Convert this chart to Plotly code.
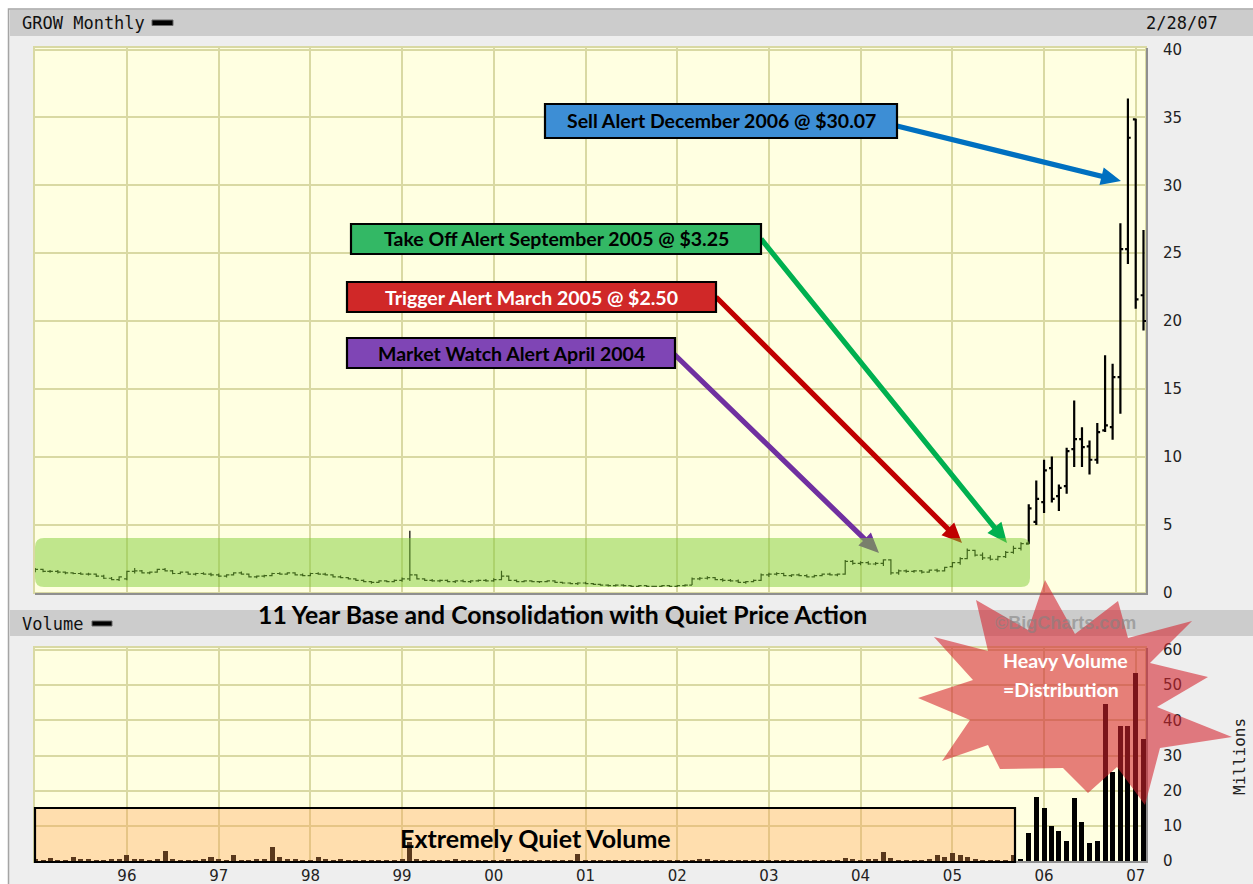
import math
import pandas as pd
import plotly.graph_objects as go

# ---------------- data ----------------
months = pd.date_range("1995-01-01", "2007-02-01", freq="MS")

open_by_year = [
    [1.60, 1.70, 1.55, 1.55, 1.50, 1.45, 1.40, 1.35, 1.35, 1.20, 1.05, 0.95],
    [1.00, 1.55, 1.60, 1.45, 1.50, 1.70, 1.60, 1.40, 1.50, 1.35, 1.40, 1.35],
    [1.30, 1.20, 1.30, 1.45, 1.35, 1.15, 1.20, 1.25, 1.40, 1.35, 1.45, 1.30],
    [1.25, 1.40, 1.35, 1.30, 1.15, 1.10, 1.00, 0.90, 0.80, 0.75, 0.85, 0.80],
    [0.90, 1.00, 1.30, 1.00, 0.90, 0.85, 0.90, 0.80, 0.85, 0.80, 0.85, 0.90],
    [0.85, 0.95, 1.20, 0.90, 0.80, 0.85, 0.80, 0.80, 0.85, 0.75, 0.70, 0.65],
    [0.70, 0.65, 0.60, 0.55, 0.50, 0.55, 0.50, 0.45, 0.50, 0.45, 0.45, 0.50],
    [0.45, 0.50, 0.55, 1.00, 1.05, 1.10, 0.95, 0.90, 0.85, 0.75, 0.80, 0.90],
    [1.30, 1.35, 1.40, 1.25, 1.30, 1.25, 1.15, 1.25, 1.35, 1.30, 1.35, 2.30],
    [2.15, 2.20, 2.10, 2.15, 2.40, 1.45, 1.60, 1.55, 1.60, 1.50, 1.65, 1.60],
    [1.90, 2.20, 2.50, 3.10, 2.75, 2.55, 2.45, 2.65, 2.95, 3.25, 3.60, 5.20],
    [6.66, 9.16, 7.10, 7.83, 10.56, 11.30, 10.76, 9.78, 11.94, 12.18, 15.87, 25.30],
    [34.85, 21.90],
]
high_by_year = [
    [1.80, 1.75, 1.65, 1.65, 1.55, 1.50, 1.50, 1.45, 1.40, 1.30, 1.15, 1.20],
    [1.60, 1.80, 1.65, 1.55, 1.75, 1.80, 1.65, 1.55, 1.55, 1.45, 1.50, 1.45],
    [1.40, 1.35, 1.50, 1.55, 1.40, 1.25, 1.30, 1.45, 1.50, 1.50, 1.50, 1.40],
    [1.45, 1.50, 1.45, 1.35, 1.25, 1.15, 1.05, 0.95, 0.85, 0.90, 0.90, 0.95],
    [1.10, 4.55, 1.35, 1.05, 1.00, 0.95, 0.95, 0.90, 0.95, 0.90, 0.95, 1.00],
    [1.05, 1.60, 1.25, 0.95, 0.90, 0.90, 0.85, 0.90, 0.90, 0.80, 0.75, 0.75],
    [0.80, 0.70, 0.65, 0.60, 0.60, 0.60, 0.55, 0.55, 0.55, 0.50, 0.55, 0.55],
    [0.55, 0.60, 1.10, 1.15, 1.20, 1.15, 1.05, 1.00, 0.95, 0.85, 0.95, 1.40],
    [1.45, 1.50, 1.45, 1.35, 1.40, 1.35, 1.30, 1.40, 1.45, 1.40, 2.40, 2.40],
    [2.30, 2.30, 2.25, 2.45, 2.45, 1.70, 1.70, 1.65, 1.65, 1.70, 1.75, 1.90],
    [2.25, 2.60, 3.25, 3.15, 2.95, 2.75, 2.70, 3.05, 3.45, 3.70, 6.50, 8.25],
    [9.78, 10.02, 7.96, 10.66, 14.15, 12.18, 11.20, 12.48, 17.47, 16.85, 27.20, 36.40],
    [34.90, 26.70],
]
low_by_year = [
    [1.50, 1.50, 1.45, 1.40, 1.35, 1.35, 1.30, 1.25, 1.15, 1.00, 0.90, 0.85],
    [0.90, 1.40, 1.40, 1.35, 1.45, 1.55, 1.35, 1.35, 1.30, 1.25, 1.30, 1.20],
    [1.15, 1.10, 1.25, 1.30, 1.10, 1.05, 1.10, 1.20, 1.30, 1.30, 1.25, 1.20],
    [1.20, 1.30, 1.25, 1.10, 1.05, 0.95, 0.85, 0.75, 0.65, 0.70, 0.75, 0.75],
    [0.80, 0.85, 0.95, 0.85, 0.80, 0.75, 0.75, 0.70, 0.75, 0.70, 0.80, 0.80],
    [0.80, 0.90, 0.85, 0.75, 0.75, 0.75, 0.70, 0.75, 0.70, 0.65, 0.60, 0.55],
    [0.60, 0.55, 0.50, 0.45, 0.45, 0.45, 0.40, 0.40, 0.40, 0.40, 0.40, 0.40],
    [0.40, 0.45, 0.55, 0.90, 0.95, 0.90, 0.80, 0.80, 0.70, 0.65, 0.75, 0.85],
    [1.15, 1.25, 1.20, 1.15, 1.20, 1.10, 1.10, 1.20, 1.25, 1.20, 1.30, 2.05],
    [2.00, 2.05, 2.00, 1.95, 1.30, 1.30, 1.45, 1.45, 1.40, 1.45, 1.50, 1.55],
    [1.85, 2.05, 2.45, 2.65, 2.40, 2.35, 2.35, 2.55, 2.85, 3.10, 3.55, 4.98],
    [5.85, 6.63, 6.00, 7.27, 9.24, 9.24, 8.70, 9.48, 11.82, 11.25, 13.17, 24.20],
    [20.90, 19.30],
]
close_by_year = [
    [1.70, 1.55, 1.55, 1.50, 1.45, 1.40, 1.35, 1.35, 1.20, 1.05, 0.95, 1.15],
    [1.55, 1.60, 1.45, 1.50, 1.70, 1.60, 1.40, 1.50, 1.35, 1.40, 1.35, 1.30],
    [1.20, 1.30, 1.45, 1.35, 1.15, 1.20, 1.25, 1.40, 1.35, 1.45, 1.30, 1.25],
    [1.40, 1.35, 1.30, 1.15, 1.10, 1.00, 0.90, 0.80, 0.75, 0.85, 0.80, 0.90],
    [1.00, 1.30, 1.00, 0.90, 0.85, 0.90, 0.80, 0.85, 0.80, 0.85, 0.90, 0.85],
    [0.95, 1.20, 0.90, 0.80, 0.85, 0.80, 0.80, 0.85, 0.75, 0.70, 0.65, 0.70],
    [0.65, 0.60, 0.55, 0.50, 0.55, 0.50, 0.45, 0.50, 0.45, 0.45, 0.50, 0.45],
    [0.50, 0.55, 1.00, 1.05, 1.10, 0.95, 0.90, 0.85, 0.75, 0.80, 0.90, 1.30],
    [1.35, 1.40, 1.25, 1.30, 1.25, 1.15, 1.25, 1.35, 1.30, 1.35, 2.30, 2.15],
    [2.20, 2.10, 2.15, 2.40, 1.45, 1.60, 1.55, 1.60, 1.50, 1.65, 1.60, 1.85],
    [2.20, 2.50, 3.10, 2.75, 2.55, 2.45, 2.65, 2.95, 3.25, 3.60, 6.20, 6.90],
    [8.99, 6.90, 7.71, 10.41, 11.30, 10.71, 9.78, 11.82, 12.31, 15.87, 25.30, 33.50],
    [21.60, 20.00],
]
volume_by_year = [  # millions of shares
    [0.3, 0.1, 0.75, 0.1, 0.1, 1.0, 0.7, 0.7, 0.1, 0.1, 0.7, 0.7],
    [1.7, 0.7, 0.7, 0.1, 0.7, 2.8, 0.7, 0.1, 0.1, 0.1, 0.7, 1.0],
    [0.7, 0.1, 1.7, 0.1, 0.1, 0.7, 0.7, 4.0, 1.0, 0.7, 0.7, 0.1],
    [0.1, 1.0, 0.7, 0.1, 0.7, 0.1, 0.1, 0.1, 0.1, 0.1, 0.1, 0.1],
    [0.7, 5.4, 0.7, 0.1, 0.1, 0.1, 0.1, 0.3, 0.1, 0.1, 0.1, 0.1],
    [0.1, 0.1, 0.3, 0.1, 0.1, 0.1, 0.1, 0.1, 0.1, 0.1, 0.1, 2.0],
    [0.1, 0.1, 0.1, 0.1, 0.1, 0.1, 0.1, 0.1, 0.1, 0.1, 0.1, 0.1],
    [0.1, 0.1, 0.1, 0.5, 0.5, 0.1, 0.1, 0.1, 0.1, 0.1, 0.1, 0.1],
    [0.1, 0.1, 0.1, 0.1, 0.1, 0.1, 0.1, 0.1, 0.1, 0.1, 0.8, 0.6],
    [0.1, 0.5, 0.6, 2.7, 0.8, 0.1, 0.1, 0.1, 0.1, 0.6, 1.7, 1.2],
    [2.2, 1.7, 1.2, 0.3, 0.1, 0.1, 0.1, 0.1, 1.7, 0.5, 8.1, 18.3],
    [15.0, 10.0, 8.5, 5.6, 17.8, 11.0, 5.2, 5.6, 44.6, 25.2, 38.3, 38.3],
    [53.5, 34.8],
]

open_ = [v for yr in open_by_year for v in yr]
high = [v for yr in high_by_year for v in yr]
low = [v for yr in low_by_year for v in yr]
close = [v for yr in close_by_year for v in yr]
volume = [v for yr in volume_by_year for v in yr]

year_ticks = [f"{y}-01-01" for y in range(1996, 2008)]
year_labels = ["96", "97", "98", "99", "00", "01", "02", "03", "04", "05", "06", "07"]
price_ticks = [0, 5, 10, 15, 20, 25, 30, 35, 40]
volume_ticks = [0, 10, 20, 30, 40, 50, 60]

alerts = [
    ("Sell Alert December 2006 @ $30.07", "#3D8ED5", "#0070C0", "black"),
    ("Take Off Alert September 2005 @ $3.25", "#33B865", "#00B050", "black"),
    ("Trigger Alert March 2005 @ $2.50", "#D02828", "#C00000", "white"),
    ("Market Watch Alert April 2004", "#7F45B5", "#7030A0", "black"),
]

# ---------------- layout helpers ----------------
W, H = 1253, 884
def px(x): return x / W
def py(y): return 1 - y / H

GRID = "#D9D9A3"
PLOT_BG = "#FFFFE1"
SPLIT = 130  # breakout bars drawn heavier

fig = go.Figure()
fig.add_trace(go.Ohlc(
    x=months[:SPLIT], open=open_[:SPLIT], high=high[:SPLIT], low=low[:SPLIT], close=close[:SPLIT],
    increasing_line_color="black", decreasing_line_color="black", line_width=1.2,
    tickwidth=0.4, xaxis="x", yaxis="y", hoverinfo="skip", showlegend=False))
fig.add_trace(go.Ohlc(
    x=months[SPLIT:], open=open_[SPLIT:], high=high[SPLIT:], low=low[SPLIT:], close=close[SPLIT:],
    increasing_line_color="black", decreasing_line_color="black", line_width=2.2,
    tickwidth=0.4, xaxis="x", yaxis="y", hoverinfo="skip", showlegend=False))
fig.add_trace(go.Bar(
    x=months, y=volume, marker_color="black", marker_line_width=0,
    width=20 * 86400000, xaxis="x2", yaxis="y2", hoverinfo="skip", showlegend=False))

xr = ["1994-12-31", "2007-02-11"]
xdom = [px(35), px(1146)]
common_x = dict(type="date", range=xr, domain=xdom, tickvals=year_ticks, ticktext=year_labels,
                showgrid=True, gridcolor=GRID, gridwidth=2, zeroline=False,
                showline=True, linecolor="#8F8F8F", linewidth=2, ticks="", automargin=False,
                rangeslider=dict(visible=False), fixedrange=True)
common_y = dict(side="right", showgrid=True, gridcolor=GRID, gridwidth=2, zeroline=False,
                showline=True, linecolor="#8F8F8F", linewidth=2, ticks="", automargin=False,
                ticklabelstandoff=12, tickfont=dict(family="DejaVu Sans", size=15, color="#222"),
                fixedrange=True)

fig.update_layout(
    template="none",
    width=W, height=H, autosize=False,
    margin=dict(l=0, r=0, t=0, b=0, pad=0),
    paper_bgcolor="#EEEEEE", plot_bgcolor=PLOT_BG,
    xaxis=dict(common_x, anchor="y", showticklabels=False),
    yaxis=dict(common_y, anchor="x", domain=[py(592.5), py(47.5)], range=[0, 40.15],
               tickvals=price_ticks),
    xaxis2=dict(common_x, anchor="y2", showticklabels=True,
                tickfont=dict(family="DejaVu Sans", size=15, color="#222")),
    yaxis2=dict(common_y, anchor="x2", domain=[py(861), py(648)], range=[0, 60.57],
                tickvals=volume_ticks),
    bargap=0,
)

shapes = []
def rect(x0, y0, x1, y1, fill=None, line=None, lw=0, layer="below"):
    shapes.append(dict(type="rect", xref="paper", yref="paper",
                       x0=px(x0), x1=px(x1), y0=py(y1), y1=py(y0),
                       fillcolor=fill if fill else "rgba(0,0,0,0)",
                       line=dict(color=line if line else "rgba(0,0,0,0)", width=lw),
                       layer=layer))

def poly(points, fill, line=None, lw=0, layer="above"):
    d = "M " + " L ".join(f"{px(x):.5f},{py(y):.5f}" for x, y in points) + " Z"
    shapes.append(dict(type="path", xref="paper", yref="paper", path=d,
                       fillcolor=fill, line=dict(color=line if line else "rgba(0,0,0,0)", width=lw),
                       layer=layer))

def arrow(x0, y0, x1, y1, color, shaft=2.6, head_len=20, head_w=9):
    dx, dy = x1 - x0, y1 - y0
    L = math.hypot(dx, dy)
    ux, uy = dx / L, dy / L
    nx, ny = -uy, ux
    bx, by = x1 - ux * head_len, y1 - uy * head_len
    pts = [(x0 + nx * shaft, y0 + ny * shaft), (bx + nx * shaft, by + ny * shaft),
           (bx + nx * head_w, by + ny * head_w), (x1, y1),
           (bx - nx * head_w, by - ny * head_w), (bx - nx * shaft, by - ny * shaft),
           (x0 - nx * shaft, y0 - ny * shaft)]
    poly(pts, color)

# frame: white strips outside, border, header bars
rect(0, 0, W, 9, fill="white")
rect(0, 0, 8.5, H, fill="white")
rect(8.5, 9, W + 2, H + 2, line="#A5A5A5", lw=1.5)
rect(10, 10, W, 36, fill="#CCCCCC")
rect(10, 610, W, 636, fill="#CCCCCC")
# light plot outlines (top / left)
rect(34, 47, 1146, 593, line=GRID, lw=2)
rect(34, 647, 1146, 862, line=GRID, lw=2)
# legend dashes
rect(152, 20, 173, 25.5, fill="black", line="#666", lw=1, layer="above")
rect(92, 621, 112, 626, fill="black", line="#666", lw=1, layer="above")

# arrows (drawn before green overlay so the heads get tinted like the original)
arrow(897, 126, 1121, 181, "#0070C0")
arrow(761, 239, 1007, 543, "#00B050")
arrow(716, 297, 962, 543, "#C00000")
arrow(674, 354, 879, 553, "#7030A0")

# base consolidation overlay (rounded rectangle)
x0, y0, x1, y1, r = 35, 538, 1030, 587, 9
d = (f"M {px(x0 + r)},{py(y0)} L {px(x1 - r)},{py(y0)} Q {px(x1)},{py(y0)} {px(x1)},{py(y0 + r)} "
     f"L {px(x1)},{py(y1 - r)} Q {px(x1)},{py(y1)} {px(x1 - r)},{py(y1)} "
     f"L {px(x0 + r)},{py(y1)} Q {px(x0)},{py(y1)} {px(x0)},{py(y1 - r)} "
     f"L {px(x0)},{py(y0 + r)} Q {px(x0)},{py(y0)} {px(x0 + r)},{py(y0)} Z")
shapes.append(dict(type="path", xref="paper", yref="paper", path=d,
                   fillcolor="rgba(130,205,55,0.5)", line=dict(width=0), layer="above"))

# alert boxes
boxes = [(545, 104, 897, 138), (351, 224, 761, 254), (347, 282, 716, 312), (347, 338, 675, 368)]
for (bx0, by0, bx1, by1), (_, fill, _, _) in zip(boxes, alerts):
    rect(bx0, by0, bx1, by1, fill=fill, line="black", lw=2.2, layer="above")

# quiet volume box
rect(35, 808, 1015, 862, fill="rgba(255,160,80,0.35)", line="black", lw=2.2, layer="above")

# heavy volume starburst
star = [(1045, 580), (1075, 634), (1118, 601), (1128, 638), (1192, 621), (1150, 663),
        (1208, 677), (1157, 707), (1232, 737), (1160, 748), (1145, 805), (1117, 767),
        (1088, 793), (1063, 768), (1000, 769), (988, 745), (942, 761), (970, 720),
        (918, 698), (973, 680), (934, 637), (988, 651), (976, 600), (1028, 630)]
poly(star, "rgba(212,35,45,0.58)")

fig.update_layout(shapes=shapes)

ann = []
def text(x, y, s, size, color="black", family="Lato", xanchor="center", angle=0):
    ann.append(dict(xref="paper", yref="paper", x=px(x), y=py(y), text=s, showarrow=False,
                    xanchor=xanchor, yanchor="middle", textangle=angle,
                    font=dict(family=family, size=size, color=color)))

text(20, 23, "GROW Monthly", 17, "#111", "DejaVu Sans Mono", "left")
text(1220, 23, "2/28/07", 17, "#111", "DejaVu Sans Mono", "right")
text(20, 624, "Volume", 17, "#111", "DejaVu Sans Mono", "left")
text(1065, 623, "<b>©BigCharts.com</b>", 18, "rgba(130,130,130,0.6)", "Liberation Sans")
text(1239, 757, "Millions", 16, "#222", "DejaVu Sans Mono", angle=-90)

centers = [(721, 121), (556, 239), (531, 297), (511, 353)]
for (cx, cy), (label, _, _, tcolor) in zip(centers, alerts):
    text(cx, cy, f"<b>{label}</b>", 19.5, tcolor)

text(562, 614, "<b>11 Year Base and Consolidation with Quiet Price Action</b>", 24.8)
text(535, 838, "<b>Extremely Quiet Volume</b>", 25)
text(1001, 660, "<b>Heavy Volume</b>", 19.5, "white", xanchor="left")
text(1001, 689, "<b>=Distribution</b>", 19.5, "white", xanchor="left")

fig.update_layout(annotations=ann)

post = ("document.documentElement.style.margin='0px';"
        "document.body.style.margin='0px';document.body.style.padding='0px';"
        "document.body.style.overflow='hidden';"
        "var gd=document.getElementById('{plot_id}');"
        "gd.style.position='absolute';gd.style.left='0px';gd.style.top='0px';")
fig.write_html("out.html", config={"displayModeBar": False, "responsive": False},
               post_script=post)
